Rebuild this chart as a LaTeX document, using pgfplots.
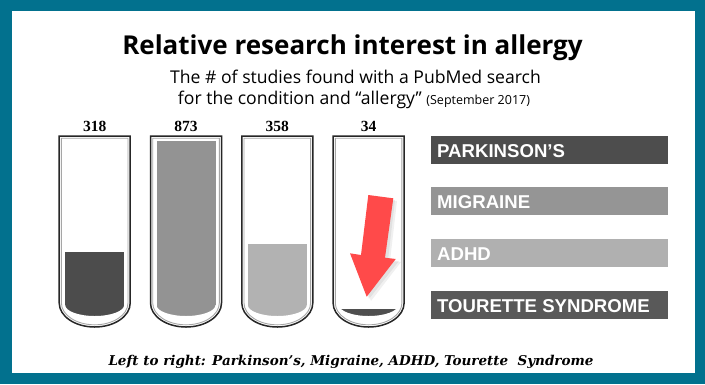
\documentclass[border=0pt]{standalone}
\usepackage{pgfplots}
\pgfplotsset{compat=1.18}
\usepackage{fontspec}
\setmainfont{Open Sans}
\newfontfamily\titlefont{Open Sans}
\newfontfamily\subfont{Open Sans}
\newfontfamily\boxfont{Liberation Sans}
\newfontfamily\capfont{DejaVu Serif}
\newfontfamily\numfont{Liberation Serif}
\definecolor{frame}{HTML}{02718E}
\definecolor{fillA}{HTML}{4C4C4C}
\definecolor{fillB}{HTML}{939393}
\definecolor{fillC}{HTML}{B2B2B2}
\definecolor{fillD}{HTML}{4F4F4F}
\definecolor{boxA}{HTML}{4D4D4D}
\definecolor{boxB}{HTML}{959595}
\definecolor{boxC}{HTML}{B0B0B0}
\definecolor{boxD}{HTML}{595959}
\definecolor{arrowred}{HTML}{FF4A4A}
\begin{document}
\begin{tikzpicture}
\begin{scope}[x=1bp,y=-1bp]
  \fill[frame] (0,0) rectangle (705,384);
  \fill[white] (12,11) rectangle (695,373);
\end{scope}
\begin{axis}[at={(49.05bp,-316bp)}, anchor=south west,
  width=365.2bp, height=180bp, scale only axis,
  xmin=-0.5, xmax=3.5, ymin=0, ymax=900,
  hide axis, clip=false,
  ybar, bar width=59bp, bar shift=0pt]
  \addplot[fill=fillA, draw=none] coordinates {(0,318)};
  \addplot[fill=fillB, draw=none] coordinates {(1,873)};
  \addplot[fill=fillC, draw=none] coordinates {(2,358)};
  \addplot[fill=fillD, draw=none] coordinates {(3,34)};
  \node[anchor=base, yshift=4.3bp, font=\numfont\bfseries\fontsize{15.5bp}{17bp}\selectfont] at (axis cs:0,900) {318};
  \node[anchor=base, yshift=4.3bp, font=\numfont\bfseries\fontsize{15.5bp}{17bp}\selectfont] at (axis cs:1,900) {873};
  \node[anchor=base, yshift=4.3bp, font=\numfont\bfseries\fontsize{15.5bp}{17bp}\selectfont] at (axis cs:2,900) {358};
  \node[anchor=base, yshift=4.3bp, font=\numfont\bfseries\fontsize{15.5bp}{17bp}\selectfont] at (axis cs:3,900) {34};
\end{axis}
\begin{scope}[x=1bp,y=-1bp]
  % masks giving the liquid a rounded bottom
  \foreach \cx in {94.7,186,277.3,368.6}{
    \fill[white] (\cx-31,305) -- (\cx-29.5,305)
      arc[start angle=180,end angle=360,x radius=29.5bp,y radius=11bp]
      -- (\cx+31,305) -- (\cx+31,319) -- (\cx-31,319) -- cycle;
    % tube outline
    \draw[line width=1.5bp, black!85] (\cx-35.5,136) -- (\cx-35.5,303)
      arc[start angle=180,end angle=360,x radius=35.5bp,y radius=24bp]
      -- (\cx+35.5,136) -- cycle;
    \draw[line width=0.9bp, black!35] (\cx-33.3,138.2) -- (\cx-33.3,303)
      arc[start angle=180,end angle=360,x radius=33.3bp,y radius=21.8bp]
      -- (\cx+33.3,138.2) -- cycle;
  }
  % arrow shadow and arrow
  \fill[black, opacity=0.06] (371,198) -- (397,201) -- (390,261) -- (401,262) -- (371,301) -- (353,256) -- (365,258) -- cycle;
  \fill[black, opacity=0.06] (370,197) -- (395,200) -- (388,260) -- (399,261) -- (369,299) -- (352,255) -- (363,257) -- cycle;
  \fill[arrowred] (368.3,195) -- (393.3,198.3) -- (385,257.7) -- (395.7,259) -- (366.7,296.7) -- (350,253.3) -- (361,255) -- cycle;
  % title and subtitle
  \node[anchor=base, font=\titlefont\bfseries\fontsize{26bp}{29bp}\selectfont] at (352.5,54) {Relative research interest in allergy};
  \node[anchor=base, font=\subfont\fontsize{17.6bp}{20bp}\selectfont] at (355.5,83.3) {The \# of studies found with a PubMed search};
  \node[anchor=base, font=\subfont\fontsize{17.6bp}{20bp}\selectfont] at (354,104.3) {for the condition and “allergy” {\fontsize{12.5bp}{14bp}\selectfont(September 2017)}};
  % label boxes
  \fill[boxA] (431,136) rectangle (668,164);
  \fill[boxB] (431,187) rectangle (668,215);
  \fill[boxC] (431,239) rectangle (668,267);
  \fill[boxD] (431,291) rectangle (668,319);
  \begin{scope}[every node/.style={anchor=base west, text=white, font=\boxfont\bfseries\fontsize{18.6bp}{20bp}\selectfont, inner sep=0pt}]
    \node at (437,157.3) {PARKINSON’S};
    \node at (437,208.3) {MIGRAINE};
    \node at (437,260.3) {ADHD};
    \node at (437,312.3) {TOURETTE SYNDROME};
  \end{scope}
  % caption
  \node[anchor=base, font=\capfont\bfseries\itshape\fontsize{13.5bp}{15bp}\selectfont] at (351,365) {Left to right: Parkinson’s, Migraine, ADHD, Tourette\ \ Syndrome};
\end{scope}
\end{tikzpicture}
\end{document}
